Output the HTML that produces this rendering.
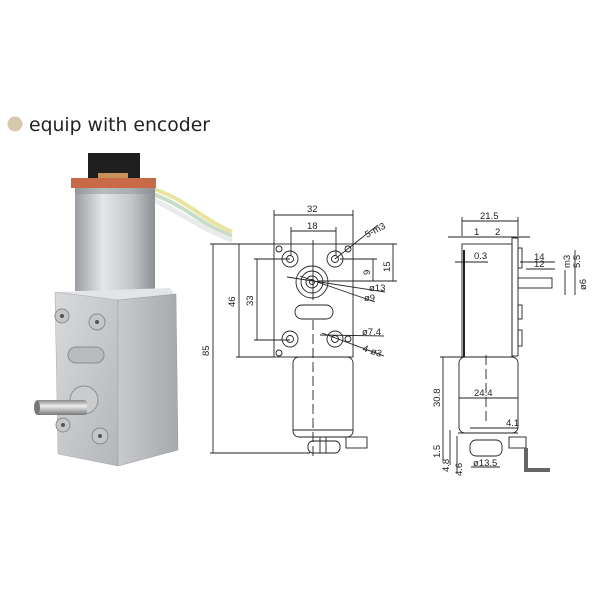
<!DOCTYPE html>
<html><head><meta charset="utf-8"><style>
html,body{margin:0;padding:0;background:#fff;}
svg{display:block}
text{font-family:"Liberation Sans",sans-serif;fill:#222}
</style></head><body>
<svg width="600" height="600" viewBox="0 0 600 600" xmlns="http://www.w3.org/2000/svg">
<defs>
<linearGradient id="can" x1="0" x2="1" y1="0" y2="0">
<stop offset="0" stop-color="#9a9ea2"/><stop offset="0.35" stop-color="#e4e6e8"/><stop offset="0.7" stop-color="#c4c7ca"/><stop offset="1" stop-color="#8c9095"/></linearGradient>
<linearGradient id="front" x1="0" x2="1" y1="0" y2="1">
<stop offset="0" stop-color="#d8dadc"/><stop offset="1" stop-color="#b4b7ba"/></linearGradient>
<linearGradient id="side" x1="0" x2="1" y1="0" y2="0">
<stop offset="0" stop-color="#c8cacc"/><stop offset="1" stop-color="#a6a9ad"/></linearGradient>
<linearGradient id="shaft" x1="0" x2="0" y1="0" y2="1">
<stop offset="0" stop-color="#888"/><stop offset="0.4" stop-color="#eee"/><stop offset="1" stop-color="#777"/></linearGradient>
</defs>
<circle cx="15" cy="124" r="7.5" fill="#d5cbac"/>
<text x="29" y="131" font-size="19" textLength="181" lengthAdjust="spacingAndGlyphs" style="font-family:'DejaVu Sans','Liberation Sans',sans-serif" fill="#222">equip with encoder</text>

<!-- photo -->
<path d="M150 188 C185 198 200 218 232 232" stroke="#e8e4a0" stroke-width="4" fill="none"/>
<path d="M150 193 C185 205 200 224 232 236" stroke="#c8dcc8" stroke-width="4" fill="none"/>
<path d="M150 198 C180 212 200 228 232 240" stroke="#e8eaec" stroke-width="5" fill="none"/>
<rect x="88" y="153" width="52" height="27" fill="#1e1e1e"/>
<rect x="98" y="173" width="30" height="8" fill="#c8905a"/>
<rect x="71" y="178" width="85" height="10" fill="#c86a48"/>
<rect x="75" y="188" width="80" height="103" fill="url(#can)"/>
<rect x="75" y="188" width="80" height="6" fill="#8e9296" opacity="0.5"/>
<polygon points="55,292 170,288 176,296 118,300" fill="#e2e4e6"/>
<polygon points="55,292 118,300 118,466 58,454" fill="url(#front)" stroke="#aaa" stroke-width="0.5"/>
<polygon points="118,300 176,294 178,450 118,466" fill="url(#side)" stroke="#999" stroke-width="0.5"/>
<g fill="#c4c6c8" stroke="#8a8d90">
<circle cx="62" cy="316" r="7"/><circle cx="97" cy="322" r="8"/>
<circle cx="63" cy="425" r="7"/><circle cx="100" cy="436" r="8"/></g>
<g fill="#555"><circle cx="62" cy="316" r="2"/><circle cx="97" cy="322" r="2"/><circle cx="63" cy="425" r="2"/><circle cx="100" cy="436" r="2"/></g>
<rect x="68" y="347" width="36" height="16" rx="8" fill="#b8bbbe" stroke="#8a8d90"/>
<circle cx="84" cy="400" r="14" fill="#c9cbcd" stroke="#8d9093"/>
<rect x="35" y="400" width="52" height="15" rx="3" fill="url(#shaft)"/>
<ellipse cx="37" cy="407.5" rx="3" ry="7" fill="#777"/>

<!-- front drawing -->
<g stroke="#222" stroke-width="0.9" fill="none">
<rect x="274" y="244" width="79" height="113"/>
<rect x="293" y="357" width="60" height="80" rx="6"/>
<line x1="293" y1="430" x2="353" y2="430"/>
<rect x="308" y="441" width="32" height="12" rx="5"/>
<rect x="346" y="437" width="21" height="11"/>
<line x1="320" y1="437" x2="320" y2="453"/><line x1="326" y1="437" x2="326" y2="453"/>
<circle cx="290" cy="259" r="8"/><circle cx="290" cy="259" r="3.5"/>
<circle cx="335" cy="259" r="8"/><circle cx="335" cy="259" r="3.5"/>
<circle cx="290" cy="339" r="8"/><circle cx="290" cy="339" r="3.5"/>
<circle cx="335" cy="339" r="8"/><circle cx="335" cy="339" r="3.5"/>
<circle cx="312" cy="282" r="16"/><circle cx="312" cy="282" r="11"/><circle cx="312" cy="282" r="6"/><circle cx="312" cy="282" r="2.5"/>
<rect x="295" y="305" width="38" height="14" rx="7"/>
<line x1="313" y1="240" x2="313" y2="300"/>
<line x1="313" y1="320" x2="313" y2="460" stroke-dasharray="10,4"/>
<circle cx="279" cy="249" r="3"/><circle cx="348" cy="249" r="3"/><circle cx="279" cy="353" r="3"/><circle cx="348" cy="339" r="3"/>
<line x1="274" y1="244" x2="274" y2="210"/><line x1="353" y1="244" x2="353" y2="210"/>
<line x1="274" y1="215" x2="353" y2="215"/>
<line x1="291" y1="255" x2="291" y2="227"/><line x1="336" y1="255" x2="336" y2="227"/>
<line x1="291" y1="231" x2="336" y2="231"/>
<line x1="210" y1="244" x2="274" y2="244"/><line x1="210" y1="453" x2="310" y2="453"/>
<line x1="213" y1="244" x2="213" y2="453"/>
<line x1="236" y1="357" x2="274" y2="357"/><line x1="239" y1="244" x2="239" y2="357"/>
<line x1="254" y1="259" x2="290" y2="259"/><line x1="254" y1="340" x2="290" y2="340"/>
<line x1="257" y1="259" x2="257" y2="340"/>
<line x1="353" y1="244" x2="397" y2="244"/><line x1="318" y1="281" x2="397" y2="281"/>
<line x1="393" y1="244" x2="393" y2="281"/>
<line x1="340" y1="259" x2="377" y2="259"/><line x1="373" y1="259" x2="373" y2="281"/>
<line x1="335" y1="259" x2="378" y2="225"/>
<line x1="287" y1="277" x2="385" y2="292"/>
<line x1="300" y1="276" x2="375" y2="302"/>
<line x1="320" y1="335" x2="384" y2="336"/>
<line x1="322" y1="333" x2="384" y2="356"/>
</g>
<g font-size="9.5">
<text x="307" y="212">32</text><text x="307" y="229">18</text>
<text x="367" y="238" transform="rotate(-28 367 238)">5-m3</text>
<text x="209" y="356" transform="rotate(-90 209 356)">85</text>
<text x="235" y="307" transform="rotate(-90 235 307)">46</text>
<text x="253" y="306" transform="rotate(-90 253 306)">33</text>
<text x="390" y="272" transform="rotate(-90 390 272)">15</text>
<text x="370" y="275" transform="rotate(-90 370 275)">9</text>
<text x="369" y="291">ø13</text><text x="364" y="301">ø9</text>
<text x="362" y="335">ø7.4</text>
<text x="362" y="351" transform="rotate(18 362 351)">4-ø3</text>
</g>

<!-- side drawing -->
<g stroke="#222" stroke-width="0.9" fill="none">
<rect x="462" y="244" width="50" height="113"/>
<line x1="464" y1="250" x2="464" y2="357" stroke-width="2"/>
<rect x="512" y="238" width="6" height="118"/>
<rect x="518" y="248" width="4" height="20"/><rect x="518" y="305" width="4" height="14"/><rect x="518" y="330" width="4" height="16"/>
<rect x="518" y="278" width="34" height="10"/>
<rect x="459" y="357" width="59" height="76" rx="6"/>
<line x1="458" y1="433" x2="518" y2="433"/>
<rect x="470" y="440" width="32" height="16" rx="6"/>
<rect x="509" y="437" width="17" height="11"/>
<line x1="486" y1="355" x2="486" y2="425" stroke-dasharray="10,4"/>
<line x1="462" y1="236" x2="462" y2="217"/><line x1="518" y1="236" x2="518" y2="217"/>
<line x1="462" y1="221" x2="518" y2="221"/>
<line x1="448" y1="237" x2="530" y2="237"/>
<line x1="455" y1="262" x2="488" y2="262"/>
<line x1="520" y1="262" x2="555" y2="262"/>
<line x1="526" y1="269" x2="555" y2="269"/>
<line x1="565" y1="270" x2="565" y2="295"/>
<line x1="575" y1="250" x2="575" y2="295"/>
<line x1="440" y1="357" x2="462" y2="357"/><line x1="443" y1="357" x2="443" y2="460"/>
<line x1="459" y1="398" x2="518" y2="398"/>
<line x1="470" y1="428" x2="518" y2="428"/>
<line x1="450" y1="430" x2="450" y2="465"/><line x1="457" y1="436" x2="457" y2="472"/>
<line x1="471" y1="467" x2="500" y2="467"/>
</g>
<path d="M526 448 V470 H550" stroke="#666" stroke-width="4" fill="none"/>
<g font-size="9.5">
<text x="480" y="219">21.5</text><text x="474" y="235">1</text><text x="495" y="235">2</text>
<text x="474" y="259">0.3</text><text x="534" y="260">14</text><text x="534" y="267">12</text>
<text x="570" y="268" transform="rotate(-90 570 268)">m3</text>
<text x="580" y="268" transform="rotate(-90 580 268)">5.5</text>
<text x="586" y="290" transform="rotate(-90 586 290)">ø6</text>
<text x="440" y="407" transform="rotate(-90 440 407)">30.8</text>
<text x="474" y="396">24.4</text><text x="506" y="426">4.1</text>
<text x="440" y="458" transform="rotate(-90 440 458)">1.5</text>
<text x="449" y="472" transform="rotate(-90 449 472)">4.8</text>
<text x="462" y="476" transform="rotate(-90 462 476)">4.6</text>
<text x="473" y="466">ø13.5</text>
</g>
</svg>
</body></html>
